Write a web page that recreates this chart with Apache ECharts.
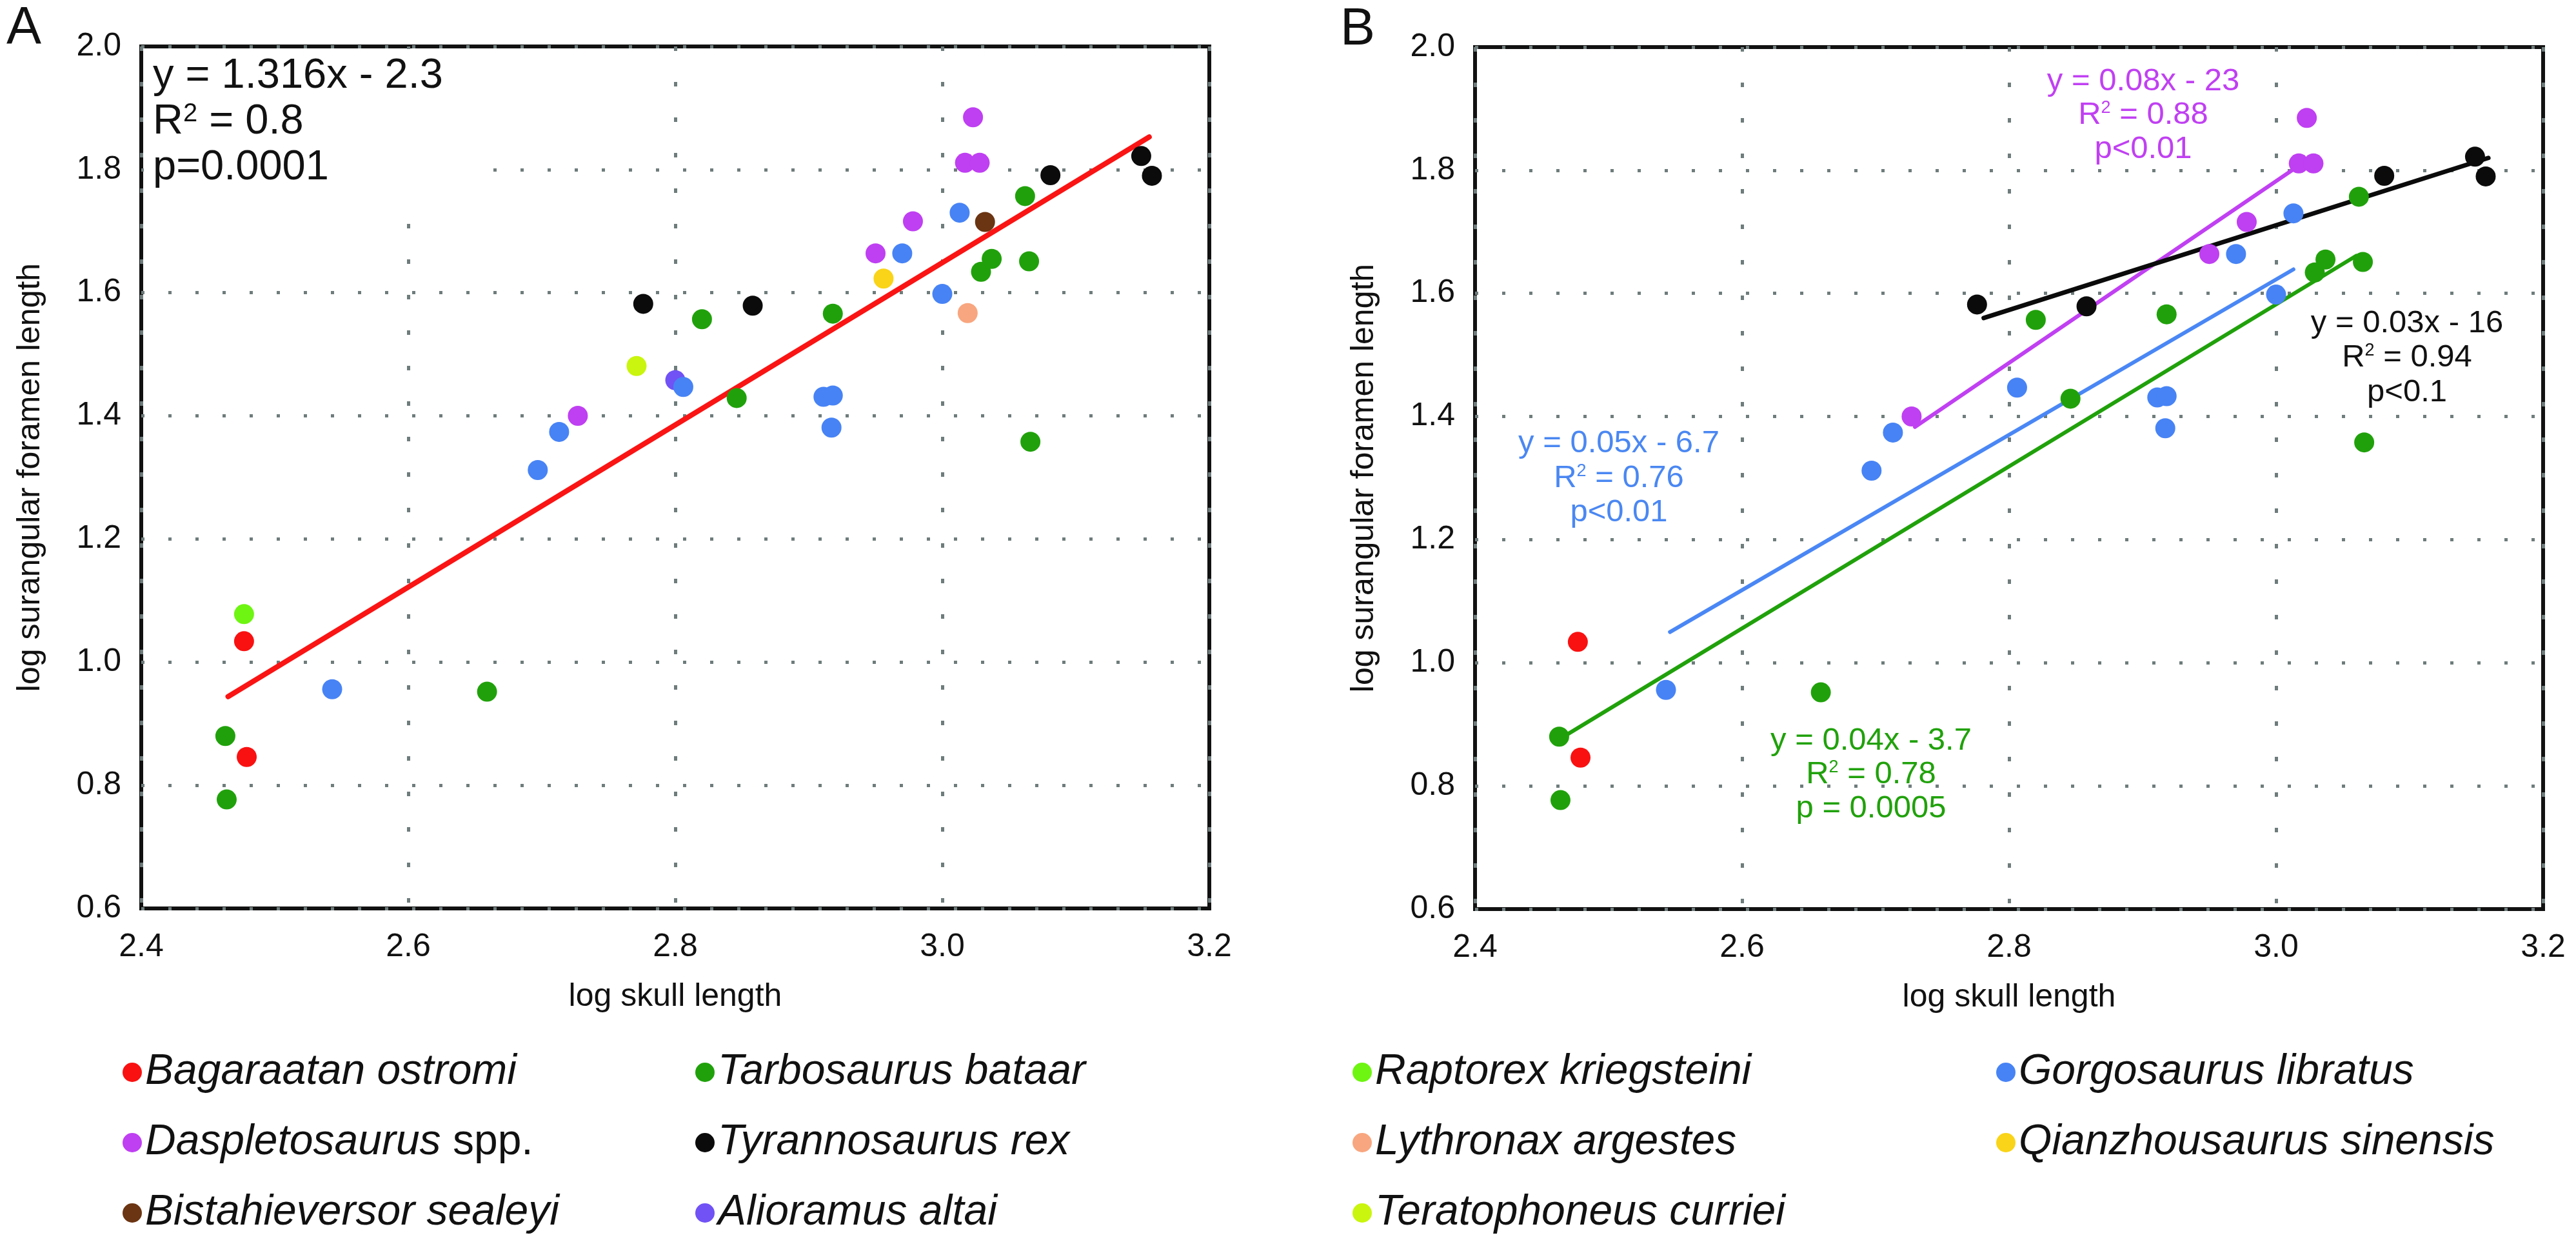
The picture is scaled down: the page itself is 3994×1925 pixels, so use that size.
<!DOCTYPE html>
<html><head><meta charset="utf-8">
<script src="https://cdn.jsdelivr.net/npm/echarts@6/dist/echarts.min.js"></script>
<style>html,body{margin:0;padding:0;background:#fff}#c{width:3994px;height:1925px}</style>
</head><body><div id="c"></div>
<script>
// ---------- data (log skull length, log surangular foramen length) ----------
const xTicks = [2.4, 2.6, 2.8, 3.0, 3.2];
const yTicks = [0.6, 0.8, 1.0, 1.2, 1.4, 1.6, 1.8, 2.0];

const bagaraatan = [[2.477, 1.034], [2.479, 0.846]];
const tarbosaurus = [[2.463, 0.880], [2.464, 0.777], [2.659, 0.952], [2.820, 1.557], [2.846, 1.429],
  [2.918, 1.566], [3.029, 1.634], [3.037, 1.655], [3.065, 1.651], [3.062, 1.757], [3.066, 1.358]];
const gorgosaurus = [[2.543, 0.956], [2.697, 1.312], [2.713, 1.374], [2.806, 1.447], [2.911, 1.431],
  [2.918, 1.433], [2.917, 1.381], [2.970, 1.664], [3.000, 1.598], [3.013, 1.730]];
const daspletosaurus = [[2.727, 1.400], [2.950, 1.664], [2.978, 1.716], [3.017, 1.811], [3.028, 1.811], [3.023, 1.885]];
const tyrannosaurus = [[2.776, 1.582], [2.858, 1.579], [3.081, 1.791], [3.149, 1.822], [3.157, 1.790]];
const bistahieversor = [[3.032, 1.715]];
const alioramus = [[2.800, 1.458]];
const raptorex = [[2.477, 1.078]];
const lythronax = [[3.019, 1.567]];
const qianzhousaurus = [[2.956, 1.623]];
const teratophoneus = [[2.771, 1.481]];

// regression line end points
const fitAll = [[2.465, 0.944], [3.155, 1.853]];
const fitDasple = [[2.7295, 1.383], [3.014, 1.803]];
const fitTrex = [[2.781, 1.560], [3.159, 1.820]];
const fitGorgo = [[2.546, 1.050], [3.013, 1.639]];
const fitTarbo = [[2.467, 0.881], [3.060, 1.661]];

const speciesNames = ['Bagaraatan ostromi', 'Tarbosaurus bataar', 'Daspletosaurus spp.', 'Tyrannosaurus rex',
  'Bistahieversor sealeyi', 'Alioramus altai', 'Raptorex kriegsteini', 'Gorgosaurus libratus',
  'Lythronax argestes', 'Qianzhousaurus sinensis', 'Teratophoneus curriei'];
const speciesData = [bagaraatan, tarbosaurus, daspletosaurus, tyrannosaurus, bistahieversor, alioramus,
  raptorex, gorgosaurus, lythronax, qianzhousaurus, teratophoneus];
const speciesColors = ['#f91111', '#20a10b', '#bf3ff2', '#0b0b0b', '#6b3412', '#7052f5',
  '#6ef512', '#4783f5', '#f8a67f', '#f9d418', '#c9f50e'];
const panelBSpecies = ['Bagaraatan ostromi', 'Tarbosaurus bataar', 'Daspletosaurus spp.', 'Tyrannosaurus rex', 'Gorgosaurus libratus'];

const legendCols = [
  ['Bagaraatan ostromi', 'Daspletosaurus spp.', 'Bistahieversor sealeyi'],
  ['Tarbosaurus bataar', 'Tyrannosaurus rex', 'Alioramus altai'],
  ['Raptorex kriegsteini', 'Lythronax argestes', 'Teratophoneus curriei'],
  ['Gorgosaurus libratus', 'Qianzhousaurus sinensis']
];

// ---------- chart ----------
const FONT = '"Liberation Sans", Arial, Helvetica, sans-serif';
const chart = echarts.init(document.getElementById('c'), null, {renderer: 'canvas'});

function makeX(gi) {
  return {
    gridIndex: gi, type: 'value', min: xTicks[0], max: xTicks[xTicks.length - 1], interval: 0.2,
    axisLine: {show: false}, axisTick: {show: false},
    axisLabel: {fontSize: 50, fontFamily: FONT, color: '#111', margin: 35, formatter: v => v.toFixed(1)},
    splitLine: {show: true, lineStyle: {color: '#6e7c7b', width: 5, type: [7, 48]}},
    name: 'log skull length', nameLocation: 'middle', nameGap: 112,
    nameTextStyle: {fontSize: 50, fontFamily: FONT, color: '#111'}
  };
}
function makeY(gi) {
  return {
    gridIndex: gi, type: 'value', min: yTicks[0], max: yTicks[yTicks.length - 1], interval: 0.2,
    axisLine: {show: false}, axisTick: {show: false},
    axisLabel: {fontSize: 50, fontFamily: FONT, color: '#111', margin: 31, formatter: v => v.toFixed(1)},
    splitLine: {show: true, lineStyle: {color: '#6e7c7b', width: 5, type: [5, 37]}},
    name: 'log surangular foramen length', nameLocation: 'middle', nameGap: 147,
    nameTextStyle: {fontSize: 50, fontFamily: FONT, color: '#111'}
  };
}

const series = [];
function fitLine(name, data, color, gi, width) {
  series.push({
    name: name, type: 'line', xAxisIndex: gi, yAxisIndex: gi, data: data,
    symbol: 'none', showSymbol: false, silent: true, z: 2,
    lineStyle: {color: color, width: width, cap: 'round'}
  });
}
fitLine('fit all', fitAll, '#fa1414', 0, 8);
fitLine('fit Daspletosaurus', fitDasple, '#c040f2', 1, 6);
fitLine('fit Tyrannosaurus', fitTrex, '#0b0b0b', 1, 7);
fitLine('fit Gorgosaurus', fitGorgo, '#4a87f5', 1, 6);
fitLine('fit Tarbosaurus', fitTarbo, '#20a10b', 1, 6);

speciesNames.forEach((n, i) => {
  const mk = gi => ({
    name: n, type: 'scatter', xAxisIndex: gi, yAxisIndex: gi, data: speciesData[i],
    symbol: 'circle', symbolSize: 31, z: 3,
    itemStyle: {color: speciesColors[i], opacity: 1},
    emphasis: {disabled: true}
  });
  series.push(mk(0));
  if (panelBSpecies.indexOf(n) >= 0) series.push(mk(1));
});

const legendRich = {
  i: {fontSize: 66, fontStyle: 'italic', fontFamily: FONT, color: '#111', lineHeight: 70},
  n: {fontSize: 66, fontStyle: 'normal', fontFamily: FONT, color: '#111', lineHeight: 70}
};
const legendLefts = [185, 1073, 2092, 3090];
const legends = legendCols.map((col, k) => ({
  data: col, orient: 'vertical', left: legendLefts[k], top: 1622,
  itemGap: 39, itemWidth: 30, itemHeight: 31, icon: 'circle', selectedMode: false,
  formatter: name => name === 'Daspletosaurus spp.' ? '{i|Daspletosaurus} {n|spp.}' : '{i|' + name + '}',
  textStyle: {fontSize: 66, fontStyle: 'italic', fontFamily: FONT, color: '#111', lineHeight: 70, rich: legendRich}
}));

function eqLines(x, baselines, lines, color, fs, supFs, supLh, align) {
  return lines.map((t, k) => ({
    type: 'text', x: x, y: baselines[k] - 0.3 * fs, z: 5, silent: true,
    style: {
      text: t, fontSize: fs, lineHeight: fs, fontFamily: FONT, fill: color,
      align: align, verticalAlign: 'middle',
      rich: {s: {fontSize: supFs, lineHeight: supLh, verticalAlign: 'top', fontFamily: FONT, fill: color}}
    }
  }));
}

const graphics = [
  // white box behind the equation in panel A (it hides the dotted grid there)
  {type: 'rect', shape: {x: 223, y: 76, width: 505, height: 224}, style: {fill: '#fff'}, z: 1, silent: true},
  {type: 'text', x: 10, y: 45, z: 5, style: {text: 'A', fontSize: 81, fontFamily: FONT, fill: '#111', verticalAlign: 'middle'}},
  {type: 'text', x: 2078, y: 47, z: 5, style: {text: 'B', fontSize: 81, fontFamily: FONT, fill: '#111', verticalAlign: 'middle'}},
  ...eqLines(237, [138, 209, 280], ['y = 1.316x - 2.3', 'R{s|2} = 0.8', 'p=0.0001'], '#111', 65, 40, 24, 'left'),
  ...eqLines(3323, [141, 193, 246], ['y = 0.08x - 23', 'R{s|2} = 0.88', 'p<0.01'], '#c040f2', 49, 27, 26, 'center'),
  ...eqLines(3732, [516, 569, 623], ['y = 0.03x - 16', 'R{s|2} = 0.94', 'p<0.1'], '#111', 49, 27, 26, 'center'),
  ...eqLines(2510, [702, 756, 809], ['y = 0.05x - 6.7', 'R{s|2} = 0.76', 'p<0.01'], '#4a87f2', 49, 27, 26, 'center'),
  ...eqLines(2901, [1163, 1215, 1268], ['y = 0.04x - 3.7', 'R{s|2} = 0.78', 'p = 0.0005'], '#20a10b', 49, 27, 26, 'center')
];

chart.setOption({
  animation: false,
  backgroundColor: '#ffffff',
  textStyle: {fontFamily: FONT},
  grid: [
    {left: 219, top: 72, width: 1656, height: 1336, show: true, borderColor: '#111', borderWidth: 6, backgroundColor: 'rgba(0,0,0,0)', containLabel: false, outerBoundsMode: 'none'},
    {left: 2287, top: 73, width: 1656, height: 1336, show: true, borderColor: '#111', borderWidth: 6, backgroundColor: 'rgba(0,0,0,0)', containLabel: false, outerBoundsMode: 'none'}
  ],
  xAxis: [makeX(0), makeX(1)],
  yAxis: [makeY(0), makeY(1)],
  legend: legends,
  series: series,
  graphic: graphics
});
</script>
</body></html>
